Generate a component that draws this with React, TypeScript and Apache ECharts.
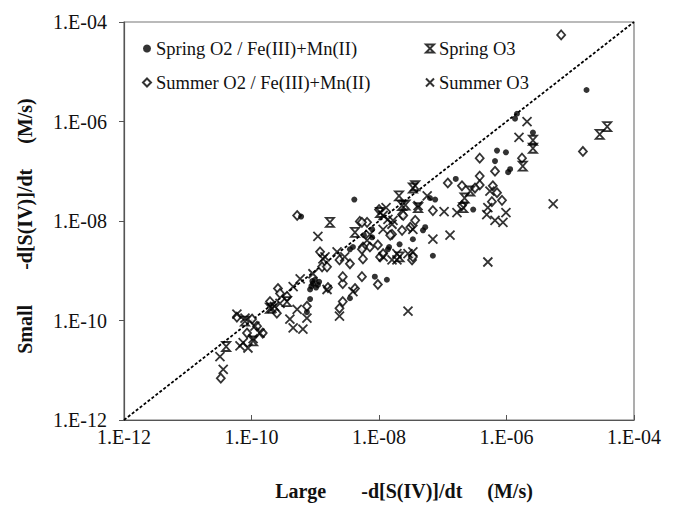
import React, { useEffect, useRef } from 'react';
import * as echarts from 'echarts';

const nameSpringO2 = 'Spring O2 / Fe(III)+Mn(II)';
const nameSpringO3 = 'Spring O3';
const nameSummerO2 = 'Summer O2 / Fe(III)+Mn(II)';
const nameSummerO3 = 'Summer O3';

const xAxisName = 'Large       -d[S(IV)]/dt     (M/s)';
const yAxisName = 'Small       -d[S(IV)]/dt     (M/s)';

const tickExponents = [-12, -10, -8, -6, -4];
const tickLabels = ['1.E-12', '1.E-10', '1.E-08', '1.E-06', '1.E-04'];

const oneToOne: [number, number][] = [[1e-12, 1e-12], [1e-4, 1e-4]];

const springO2: [number, number][] = [
  [1.8e-5, 4.3e-6], [1.46e-6, 1.43e-6], [1.36e-6, 1.14e-6], [2.6e-6, 6.0e-7],
  [7.1e-7, 2.6e-7], [9.8e-7, 2.4e-7], [6.6e-7, 1.6e-7], [1.06e-6, 9.6e-8],
  [1.14e-6, 1.1e-7], [1.6e-7, 7.0e-8], [7.6e-8, 2.7e-8], [6.3e-8, 2.9e-8],
  [3.0e-7, 1.7e-8], [4.9e-8, 6.5e-9], [1.38e-8, 2.7e-9], [7.0e-8, 2.0e-9],
  [4.1e-9, 2.7e-8], [6.0e-10, 1.23e-8], [1.44e-8, 3.0e-9], [3.5e-9, 2.7e-9],
  [1.33e-8, 6.6e-10], [8.6e-9, 7.6e-10], [9.2e-10, 5.5e-10], [1.03e-9, 4.6e-10],
  [8.3e-10, 4.2e-10], [1.15e-9, 6.0e-10], [3.5e-9, 2.8e-10], [8.3e-10, 2.7e-10],
  [7.8e-9, 6.8e-9], [7.8e-9, 4.7e-9], [5.3e-8, 7.5e-9], [2.1e-8, 3.4e-9],
  [3.4e-8, 4.3e-9], [3.9e-9, 3.0e-9], [7.4e-10, 1.47e-10], [9.9e-10, 6.6e-10],
  [5.8e-9, 5.2e-9], [9.0e-10, 6.2e-10], [1.1e-9, 5.2e-10], [8.7e-10, 4.9e-10],
];

const springO3: [number, number][] = [
  [2.9e-5, 5.5e-7], [3.8e-5, 7.9e-7], [2.6e-6, 4.2e-7], [2.6e-6, 2.9e-7],
  [1.8e-6, 1.27e-7], [2.2e-7, 2.9e-8], [3.7e-8, 5.1e-8], [2.6e-8, 2.1e-8],
  [2.06e-8, 3.2e-8], [2.3e-8, 2.04e-8], [2.1e-8, 1.9e-9], [4.0e-11, 3.0e-11],
  [2.7e-7, 4.0e-8], [2.1e-7, 1.86e-8], [3.4e-8, 4.6e-8], [1.04e-8, 1.48e-8],
  [1.95e-10, 1.76e-10], [7.9e-11, 9.7e-11], [1.06e-10, 3.9e-11], [4.2e-9, 5.9e-9],
  [1.7e-9, 9.4e-9], [3.6e-10, 2.4e-10], [4.1e-8, 1.86e-8],
];

const summerO2: [number, number][] = [
  [7.2e-6, 5.5e-5], [1.58e-5, 2.5e-7], [1.75e-6, 1.83e-7], [3.8e-7, 1.83e-7],
  [6.6e-7, 1.0e-7], [3.8e-7, 8.0e-8], [1.2e-7, 5.8e-8], [2.0e-7, 5.1e-8],
  [3.8e-7, 5.3e-8], [3.2e-7, 4.6e-8], [6.1e-7, 5.1e-8], [7.1e-7, 3.7e-8],
  [5.9e-7, 2.45e-8], [8.5e-7, 2.6e-8], [2.0e-7, 2.04e-8], [7.0e-8, 1.62e-8],
  [2.3e-8, 1.35e-8], [3.7e-8, 1.03e-8], [2.3e-8, 6.5e-9], [1.6e-8, 5.4e-9],
  [3.3e-8, 1.65e-9], [1.0e-8, 1.7e-8], [2.4e-8, 1.29e-8], [3.1e-8, 7.5e-9],
  [1.5e-8, 5.2e-9], [5.0e-9, 9.8e-9], [6.5e-9, 9.4e-9], [9.6e-9, 3.3e-9],
  [7.2e-9, 3.0e-9], [5.6e-9, 3.0e-9], [1.19e-9, 2.4e-9], [1.04e-8, 1.9e-9],
  [5.2e-10, 1.29e-8], [2.6e-10, 4.4e-10], [2.8e-10, 3.5e-10], [7.4e-10, 1.93e-10],
  [2.7e-9, 5.5e-10], [5.4e-9, 7.6e-10], [9.6e-9, 5.3e-10], [2.7e-9, 7.6e-10],
  [1.58e-9, 4.6e-10], [4.2e-9, 4.4e-10], [2.7e-9, 2.4e-10], [2.4e-9, 1.76e-10],
  [1.28e-9, 1.2e-9], [5.9e-11, 1.17e-10], [3.3e-11, 6.9e-12], [8.5e-11, 5.6e-11],
  [2.5e-10, 1.4e-10], [3.6e-10, 3.05e-10], [1.5e-10, 5.6e-11], [2.4e-9, 1.65e-9],
  [3.5e-9, 1.38e-9], [5.4e-9, 2.7e-9], [1.16e-8, 2.2e-9], [5.6e-9, 1.73e-9],
  [1.53e-9, 1.2e-9], [5.4e-9, 9.4e-9], [3.4e-8, 1.9e-9], [1.22e-10, 7.7e-11],
  [1.02e-10, 1.07e-10], [1.95e-10, 2.4e-10],
];

const summerO3: [number, number][] = [
  [2.1e-6, 9.9e-7], [1.57e-6, 4.8e-7], [5.4e-6, 2.2e-8], [9.8e-7, 1.48e-8],
  [4.9e-7, 1.35e-8], [6.6e-7, 1.03e-8], [8.8e-7, 9.4e-9], [5.1e-7, 1.86e-8],
  [1.67e-7, 1.48e-8], [1.05e-7, 1.55e-8], [7.0e-8, 4.3e-9], [1.3e-7, 5.2e-9],
  [3.4e-8, 6.8e-9], [3.4e-8, 2.4e-9], [1.16e-8, 1.9e-9], [1.6e-8, 8.6e-9],
  [1.16e-8, 1.29e-8], [5.1e-7, 1.5e-9], [5.5e-7, 4.0e-8], [5.7e-8, 3.2e-8],
  [4.1e-8, 2.04e-8], [1.1e-9, 4.9e-9], [5.8e-10, 6.9e-10], [4.5e-10, 4.8e-10],
  [2.3e-10, 1.93e-10], [5.2e-10, 1.68e-10], [1.53e-9, 4.2e-10], [3.9e-9, 3.8e-10],
  [2.4e-9, 1.22e-10], [7.4e-10, 1.12e-10], [6.4e-10, 6.7e-11], [4.5e-10, 7.1e-11],
  [2.85e-8, 1.54e-10], [1.29e-8, 1.86e-8], [1.38e-8, 1.08e-8], [1.16e-8, 6.8e-9],
  [1.91e-8, 2.2e-9], [2.85e-8, 2.2e-9], [1.42e-9, 1.9e-9], [2.2e-9, 2.4e-9],
  [2.9e-9, 1.9e-9], [1.6e-8, 1.65e-9], [7.9e-11, 1.12e-10], [7.4e-11, 3.6e-11],
  [8.8e-11, 2.8e-11], [3.2e-11, 1.88e-11], [3.6e-11, 1.04e-11], [5.9e-11, 1.34e-10],
  [1.13e-10, 7.7e-11], [2.1e-10, 1.76e-10], [1.32e-9, 1.73e-9], [9.2e-10, 8.7e-10],
  [6.5e-9, 4.1e-9], [7.2e-9, 5.4e-9], [1.91e-8, 1.65e-9], [2.8e-10, 2.2e-10],
  [4.0e-10, 1.07e-10], [1.36e-10, 5.6e-11], [1.06e-10, 4.3e-11], [6.6e-11, 3.1e-11],
  [1.66e-8, 1.03e-8],
];

const FONT = '"Liberation Serif", "Times New Roman", serif';
const INK = '#000';

const hourglass = 'path://M0,0L10,0L0,10L10,10Z';
const cross = 'path://M0,0L10,10M10,0L0,10';

function tickFormatter(v: number): string {
  const e = Math.round(Math.log10(v));
  const i = tickExponents.indexOf(e);
  return i >= 0 ? tickLabels[i] : '';
}

export default function App() {
  const ref = useRef<HTMLDivElement>(null);
  useEffect(() => {
    document.body.style.margin = '0';
    if (!ref.current) return;
    const chart = echarts.init(ref.current, null, { renderer: 'svg' });
    const legendBase = {
      orient: 'vertical' as const,
      top: 39,
      padding: 0,
      itemGap: 15,
      itemWidth: 8,
      itemHeight: 8,
      selectedMode: false,
      textStyle: { fontFamily: FONT, fontSize: 18.5, color: '#111' },
    };
    chart.setOption({
      animation: false,
      backgroundColor: '#fff',
      grid: {
        left: 124, right: 39, top: 22, bottom: 81,
        show: true, borderColor: '#777', borderWidth: 1.2, backgroundColor: 'transparent',
      },
      legend: [
        { ...legendBase, left: 142, data: [nameSpringO2, nameSummerO2] },
        { ...legendBase, left: 425, data: [nameSpringO3, nameSummerO3] },
      ],
      xAxis: {
        type: 'log', logBase: 10, min: 1e-12, max: 1e-4, interval: 2,
        axisLine: { show: true, lineStyle: { color: '#555', width: 1.2 } },
        axisTick: { show: true, inside: true, length: 5, lineStyle: { color: '#555' } },
        minorTick: { show: false },
        splitLine: { show: false },
        axisLabel: { margin: 7, fontFamily: FONT, fontSize: 20, color: '#111', formatter: tickFormatter },
        name: xAxisName,
        nameLocation: 'middle',
        nameGap: 61,
        nameTextStyle: { fontFamily: FONT, fontSize: 20, fontWeight: 'bold', color: '#111', padding: [0, 0, 0, 50] },
      },
      yAxis: {
        type: 'log', logBase: 10, min: 1e-12, max: 1e-4, interval: 2,
        axisLine: { show: true, lineStyle: { color: '#555', width: 1.2 } },
        axisTick: { show: true, inside: false, length: 5, lineStyle: { color: '#555' } },
        minorTick: { show: false },
        splitLine: { show: false },
        axisLabel: { margin: 17, fontFamily: FONT, fontSize: 20, color: '#111', formatter: tickFormatter },
        name: yAxisName,
        nameLocation: 'middle',
        nameGap: 89,
        nameTextStyle: { fontFamily: FONT, fontSize: 20, fontWeight: 'bold', color: '#111', padding: [0, 10, 0, 0] },
      },
      series: [
        {
          name: '1:1', type: 'line', data: oneToOne, symbol: 'none', silent: true,
          lineStyle: { color: INK, width: 1.8, type: [3, 2] }, z: 1,
        },
        {
          name: nameSummerO2, type: 'scatter', data: summerO2, symbol: 'diamond', symbolSize: [8, 9],
          itemStyle: { color: '#fff', borderColor: INK, borderWidth: 1.8 }, z: 2,
        },
        {
          name: nameSummerO3, type: 'scatter', data: summerO3, symbol: cross, symbolSize: 9,
          itemStyle: { color: 'rgba(0,0,0,0)', borderColor: INK, borderWidth: 1.8 }, z: 3,
        },
        {
          name: nameSpringO3, type: 'scatter', data: springO3, symbol: hourglass, symbolSize: [8, 9],
          itemStyle: { color: 'rgba(0,0,0,0)', borderColor: INK, borderWidth: 1.8 }, z: 4,
        },
        {
          name: nameSpringO2, type: 'scatter', data: springO2, symbol: 'circle', symbolSize: 6,
          itemStyle: { color: INK }, z: 5,
        },
      ],
    });
    return () => chart.dispose();
  }, []);
  return <div ref={ref} style={{ width: 673, height: 506 }} />;
}
